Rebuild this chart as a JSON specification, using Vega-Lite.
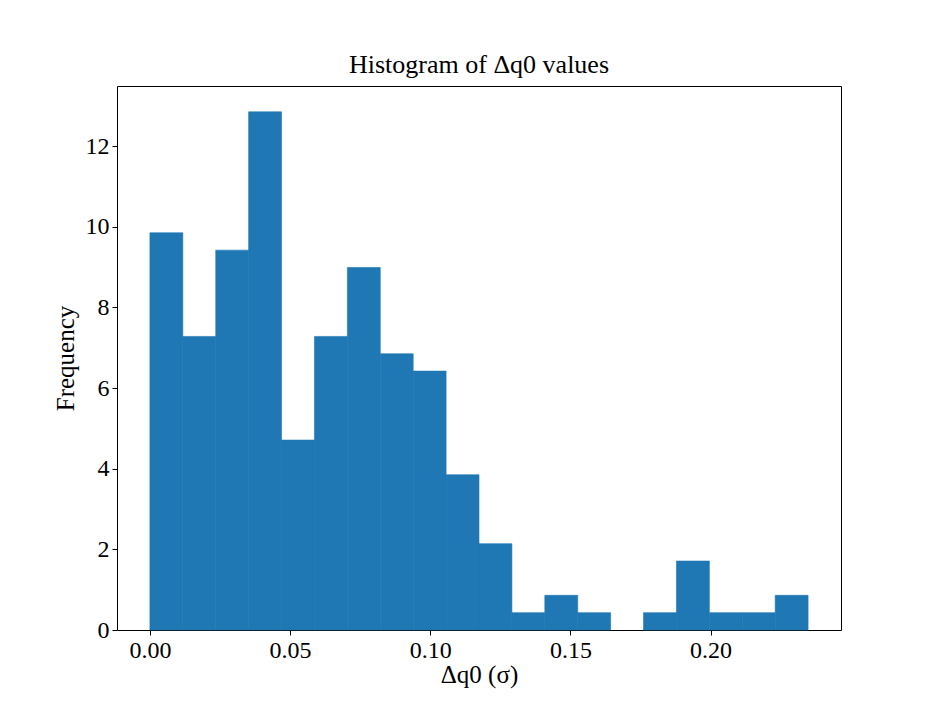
{
  "$schema": "https://vega.github.io/schema/vega-lite/v6.json",
  "autosize": {"type": "none"},
  "padding": {"left": 117, "top": 86, "right": 95, "bottom": 90},
  "width": 724,
  "height": 544,
  "background": "white",
  "title": {
    "text": "Histogram of Δq0 values",
    "font": "Liberation Serif",
    "fontSize": 26,
    "fontWeight": "normal",
    "color": "black",
    "anchor": "middle",
    "offset": 8
  },
  "config": {
    "view": {"stroke": "black", "strokeWidth": 1},
    "axis": {
      "labelFont": "Liberation Serif",
      "titleFont": "Liberation Serif",
      "labelFontSize": 24,
      "titleFontSize": 25,
      "titleFontWeight": "normal",
      "labelColor": "black",
      "titleColor": "black",
      "tickColor": "black",
      "domainColor": "black",
      "grid": false,
      "tickSize": 5,
      "labelPadding": 3
    }
  },
  "data": {
    "values": [
      {"bin_start": 0.0, "bin_end": 0.01174, "freq": 9.85},
      {"bin_start": 0.01174, "bin_end": 0.02348, "freq": 7.28},
      {"bin_start": 0.02348, "bin_end": 0.03522, "freq": 9.42},
      {"bin_start": 0.03522, "bin_end": 0.04696, "freq": 12.85},
      {"bin_start": 0.04696, "bin_end": 0.0587, "freq": 4.71},
      {"bin_start": 0.0587, "bin_end": 0.07044, "freq": 7.28},
      {"bin_start": 0.07044, "bin_end": 0.08218, "freq": 8.99},
      {"bin_start": 0.08218, "bin_end": 0.09392, "freq": 6.85},
      {"bin_start": 0.09392, "bin_end": 0.10566, "freq": 6.42},
      {"bin_start": 0.10566, "bin_end": 0.1174, "freq": 3.85},
      {"bin_start": 0.1174, "bin_end": 0.12914, "freq": 2.14},
      {"bin_start": 0.12914, "bin_end": 0.14088, "freq": 0.43},
      {"bin_start": 0.14088, "bin_end": 0.15262, "freq": 0.86},
      {"bin_start": 0.15262, "bin_end": 0.16436, "freq": 0.43},
      {"bin_start": 0.16436, "bin_end": 0.1761, "freq": 0},
      {"bin_start": 0.1761, "bin_end": 0.18784, "freq": 0.43},
      {"bin_start": 0.18784, "bin_end": 0.19958, "freq": 1.71},
      {"bin_start": 0.19958, "bin_end": 0.21132, "freq": 0.43},
      {"bin_start": 0.21132, "bin_end": 0.22306, "freq": 0.43},
      {"bin_start": 0.22306, "bin_end": 0.2348, "freq": 0.86}
    ]
  },
  "mark": {"type": "rect", "color": "#1f77b4", "stroke": "#1f77b4", "strokeWidth": 0.6},
  "encoding": {
    "x": {
      "field": "bin_start",
      "type": "quantitative",
      "scale": {"domain": [-0.01174, 0.24654], "nice": false, "zero": false},
      "axis": {"values": [0, 0.05, 0.1, 0.15, 0.2], "format": ".2f", "title": "Δq0 (σ)", "titlePadding": 0, "domain": false}
    },
    "x2": {"field": "bin_end"},
    "y": {
      "field": "freq",
      "type": "quantitative",
      "scale": {"domain": [0, 13.49], "nice": false},
      "axis": {"values": [0, 2, 4, 6, 8, 10, 12], "title": "Frequency", "titlePadding": 7, "domain": false}
    },
    "y2": {"datum": 0},
    "strokeOpacity": {"condition": {"test": "datum.freq > 0", "value": 1}, "value": 0}
  }
}
